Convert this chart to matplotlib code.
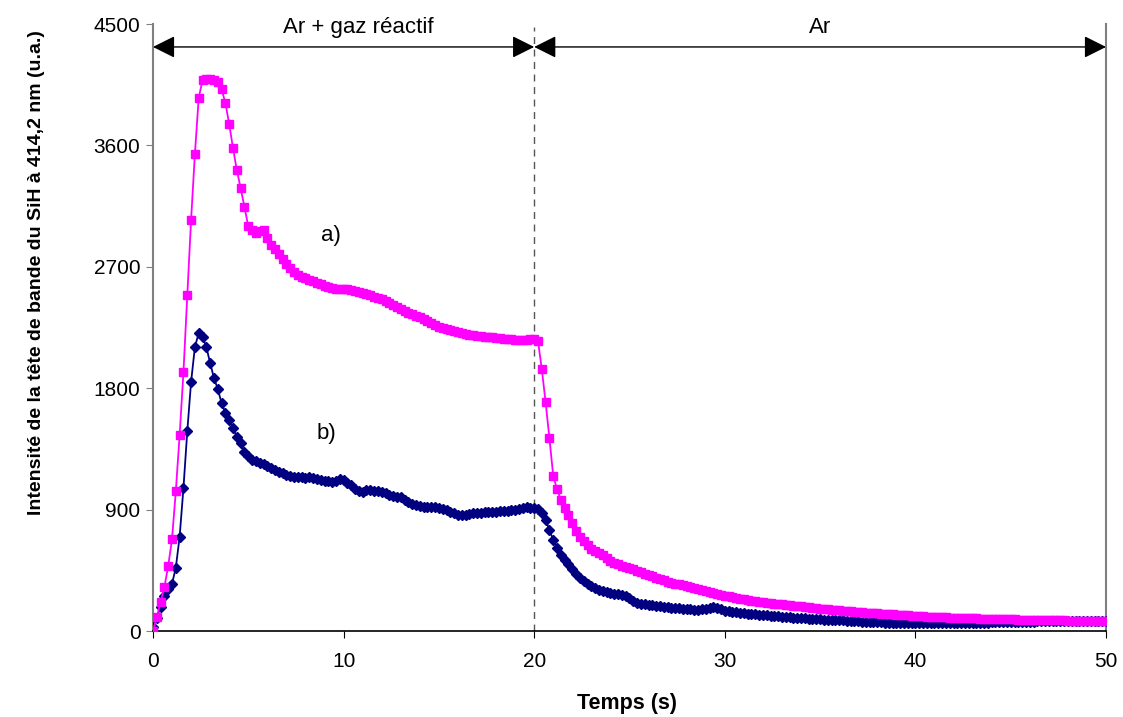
import numpy as np
import matplotlib
matplotlib.use("Agg")
import matplotlib.pyplot as plt

plt.rcParams['font.family'] = ['Liberation Sans', 'DejaVu Sans']

# time axis, one sample every 0.2 s
temps = np.round(np.arange(251) * 0.2, 1)

# curve a) (magenta squares)
courbe_a = [
    0, 104, 215, 326, 482, 682, 1038, 1453, 1920, 2491,
    3047, 3536, 3951, 4085, 4092, 4092, 4088, 4070, 4018, 3914,
    3758, 3580, 3417, 3284, 3143, 3002, 2975, 2950, 2965, 2975,
    2913, 2865, 2830, 2795, 2755, 2722, 2690, 2665, 2640, 2624,
    2615, 2605, 2595, 2583, 2570, 2560, 2550, 2543, 2538, 2535,
    2535, 2532, 2528, 2520, 2512, 2506, 2497, 2488, 2478, 2468,
    2458, 2445, 2430, 2415, 2400, 2385, 2370, 2360, 2348, 2337,
    2327, 2315, 2300, 2285, 2270, 2257, 2247, 2238, 2230, 2222,
    2215, 2208, 2203, 2198, 2194, 2190, 2186, 2183, 2180, 2177,
    2174, 2171, 2168, 2165, 2162, 2160, 2158, 2157, 2160, 2165,
    2162, 2150, 1940, 1695, 1428, 1149, 1050, 971, 910, 860,
    800, 745, 700, 665, 635, 610, 590, 575, 560, 545,
    520, 507, 495, 484, 474, 466, 458, 448, 437, 426,
    415, 405, 395, 385, 375, 366, 359, 352, 345, 338,
    331, 325, 319, 314, 306, 298, 290, 283, 276, 269,
    262, 256, 250, 245, 240, 235, 230, 226, 222, 218,
    214, 211, 207, 204, 200, 197, 194, 191, 188, 185,
    182, 179, 176, 173, 170, 167, 164, 161, 158, 156,
    153, 151, 148, 146, 143, 141, 138, 136, 134, 132,
    130, 128, 127, 125, 123, 121, 119, 118, 116, 114,
    113, 111, 109, 107, 105, 104, 103, 102, 101, 100,
    99, 98, 97, 96, 95, 94, 93, 92, 91, 91,
    90, 89, 89, 88, 87, 87, 86, 85, 85, 84,
    83, 83, 82, 82, 81, 81, 80, 80, 79, 79,
    78, 78, 77, 77, 76, 76, 75, 75, 75, 74,
    74,
]

# curve b) (navy diamonds)
courbe_b = [
    30, 100, 180, 260, 310, 350, 470, 700, 1060, 1480,
    1846, 2105, 2209, 2180, 2105, 1987, 1876, 1794, 1690, 1616,
    1564, 1505, 1438, 1394, 1327, 1295, 1270, 1258, 1245, 1235,
    1225, 1210, 1195, 1180, 1168, 1158, 1148, 1141, 1141, 1141,
    1138, 1140, 1136, 1130, 1122, 1115, 1110, 1104, 1112, 1125,
    1118, 1095, 1080, 1055, 1035, 1030, 1042, 1045, 1040, 1035,
    1030, 1020, 1008, 1003, 995, 990, 975, 955, 945, 935,
    925, 919, 918, 920, 918, 915, 905, 897, 885, 872,
    862, 858, 862, 870, 875, 875, 878, 880, 882, 884,
    886, 888, 889, 890, 895, 900, 905, 912, 919, 915,
    912, 905, 875, 823, 749, 675, 615, 565, 530, 495,
    460, 425, 393, 370, 350, 332, 320, 305, 298, 290,
    284, 278, 272, 265, 258, 248, 225, 205, 200, 198,
    195, 192, 188, 185, 180, 175, 172, 170, 168, 165,
    163, 160, 158, 156, 160, 165, 170, 175, 172, 160,
    150, 145, 141, 138, 135, 132, 129, 127, 125, 122,
    120, 118, 115, 112, 109, 106, 104, 102, 100, 97,
    95, 93, 91, 89, 88, 86, 85, 84, 83, 82,
    80, 79, 77, 75, 73, 71, 70, 68, 67, 66,
    65, 64, 63, 63, 62, 62, 61, 61, 60, 60,
    60, 60, 59, 59, 59, 58, 58, 58, 58, 58,
    58, 58, 58, 59, 59, 60, 60, 61, 62, 63,
    64, 65, 66, 67, 67, 68, 68, 69, 69, 70,
    70, 70, 71, 71, 71, 71, 72, 72, 72, 72,
    72, 72, 72, 72, 72, 72, 72, 72, 72, 72,
    72,
]

x_ticks = [0, 10, 20, 30, 40, 50]
y_ticks = [0, 900, 1800, 2700, 3600, 4500]
t_switch = 20

fig = plt.figure(figsize=(11.23, 7.17), dpi=100)
ax = fig.add_axes([0.1362, 0.1199, 0.8487, 0.8466])

ax.plot(temps, courbe_b, color='#000080', lw=1.3, marker='D', markersize=5.3,
        markeredgecolor='#000080', markerfacecolor='#000080', zorder=3)
ax.plot(temps, courbe_a, color='#FF00FF', lw=1.3, marker='s', markersize=6.3,
        markeredgecolor='#FF00FF', markerfacecolor='#FF00FF', zorder=4)

ax.set_xlim(0, 50)
ax.set_ylim(0, 4500)
ax.set_xticks(x_ticks)
ax.set_yticks(y_ticks)
ax.tick_params(axis='both', direction='out', length=5, labelsize=15)
ax.tick_params(axis='y', color='#808080', pad=4)
ax.tick_params(axis='x', pad=10)

ax.spines['top'].set_visible(False)
ax.spines['left'].set_color('#808080')
ax.spines['right'].set_color('#808080')
ax.spines['left'].set_linewidth(1.5)
ax.spines['right'].set_linewidth(1.5)
ax.spines['bottom'].set_linewidth(1.2)

# switch from reactive gas to argon
ax.axvline(t_switch, ymax=0.995, color='#555555', lw=1, ls=(0, (5, 4)), zorder=2)

# phase arrows
y_arrow = 4330
ax.annotate('', xy=(0, y_arrow), xytext=(t_switch, y_arrow),
            arrowprops=dict(arrowstyle='<|-|>', mutation_scale=34, color='black',
                            lw=1, shrinkA=0, shrinkB=0), annotation_clip=False)
ax.annotate('', xy=(t_switch, y_arrow), xytext=(50, y_arrow),
            arrowprops=dict(arrowstyle='<|-|>', mutation_scale=34, color='black',
                            lw=1, shrinkA=0, shrinkB=0), annotation_clip=False)
ax.text(10.75, 4475, 'Ar + gaz réactif', ha='center', va='center', fontsize=16)
ax.text(35, 4475, 'Ar', ha='center', va='center', fontsize=16)

ax.text(9.35, 2935, 'a)', ha='center', va='center', fontsize=16)
ax.text(9.1, 1468, 'b)', ha='center', va='center', fontsize=16)

ax.set_xlabel('Temps (s)', fontsize=15.5, fontweight='bold')
ax.set_ylabel('Intensité de la tête de bande du SiH à 414,2 nm (u.a.)',
              fontsize=14, fontweight='bold')
ax.xaxis.set_label_coords(0.497, -0.102)
ax.yaxis.set_label_coords(-0.113, 0.591)

fig.savefig('out.png', dpi=100)
